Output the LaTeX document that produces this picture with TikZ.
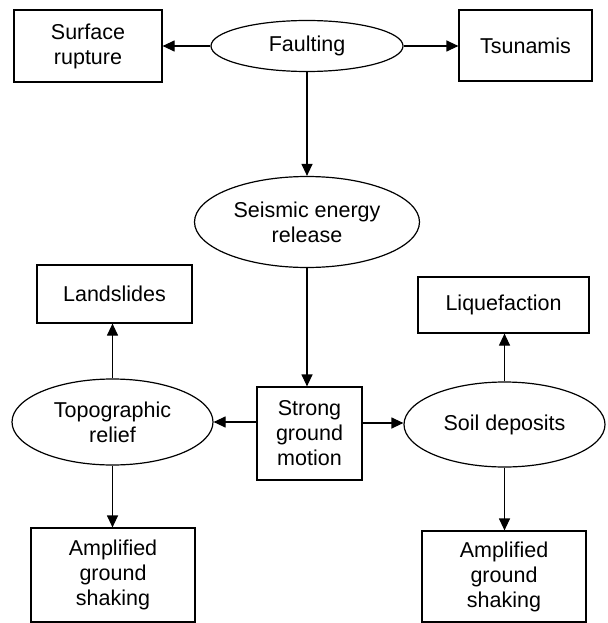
\documentclass[tikz,border=0pt]{standalone}
\usepackage{fontspec}
\setmainfont{Liberation Sans}
\usepackage{tikz}
\usetikzlibrary{shapes.geometric,arrows.meta}

\tikzset{
  box/.style={draw, line width=1.2pt, rectangle, align=center, inner sep=0pt,
    font=\fontsize{21.5}{25}\selectfont},
  oval/.style={draw, line width=1.2pt, ellipse, align=center, inner sep=0pt,
    font=\fontsize{21.5}{25}\selectfont},
  link/.style={line width=1.2pt, -{Triangle[length=12pt,width=11pt]}}
}

\begin{document}
\begin{tikzpicture}[x=1pt,y=-1pt]
\useasboundingbox (0,0) rectangle (607,623);
% top row
\node[box, minimum width=148pt, minimum height=72pt] (rupture) at (88,46) {Surface\\rupture};
\node[oval, minimum width=192pt, minimum height=51pt] (fault) at (307,46) {Faulting};
\node[box, minimum width=133pt, minimum height=71pt] (tsunami) at (525.5,45.5) {Tsunamis};
\node[oval, minimum width=225pt, minimum height=91pt] (seismic) at (307,222) {Seismic energy\\release};
% middle
\node[box, minimum width=155pt, minimum height=58pt] (landslide) at (114.5,294) {Landslides};
\node[box, minimum width=171pt, minimum height=56pt] (liquef) at (503.5,305) {Liquefaction};
\node[oval, minimum width=201pt, minimum height=86pt] (topo) at (112.5,422) {Topographic\\relief};
\node[box, minimum width=105pt, minimum height=93pt] (strong) at (309.5,433.5) {Strong\\ground\\motion};
\node[oval, minimum width=201pt, minimum height=85pt] (soil) at (504.5,424.5) {Soil deposits};
% bottom
\node[box, minimum width=164pt, minimum height=94pt] (amp1) at (113,575) {Amplified\\ground\\shaking};
\node[box, minimum width=164pt, minimum height=91pt] (amp2) at (504,576.5) {Amplified\\ground\\shaking};

\draw[link] (fault.west) -- (rupture.east |- fault.west);
\draw[link] (fault.east) -- (tsunami.west |- fault.east);
\draw[link] (fault.south) -- (seismic.north);
\draw[link] (seismic.south) -- (seismic.south |- strong.north);
\draw[link] (strong.west |- topo.east) -- (topo.east);
\draw[link] (strong.east |- 0,423) -- (soil.west |- 0,423);
\draw[link] (topo.north) -- (topo.north |- landslide.south);
\draw[link] (topo.south) -- (topo.south |- amp1.north);
\draw[link] (soil.north) -- (soil.north |- liquef.south);
\draw[link] (soil.south) -- (soil.south |- amp2.north);
\end{tikzpicture}
\end{document}
